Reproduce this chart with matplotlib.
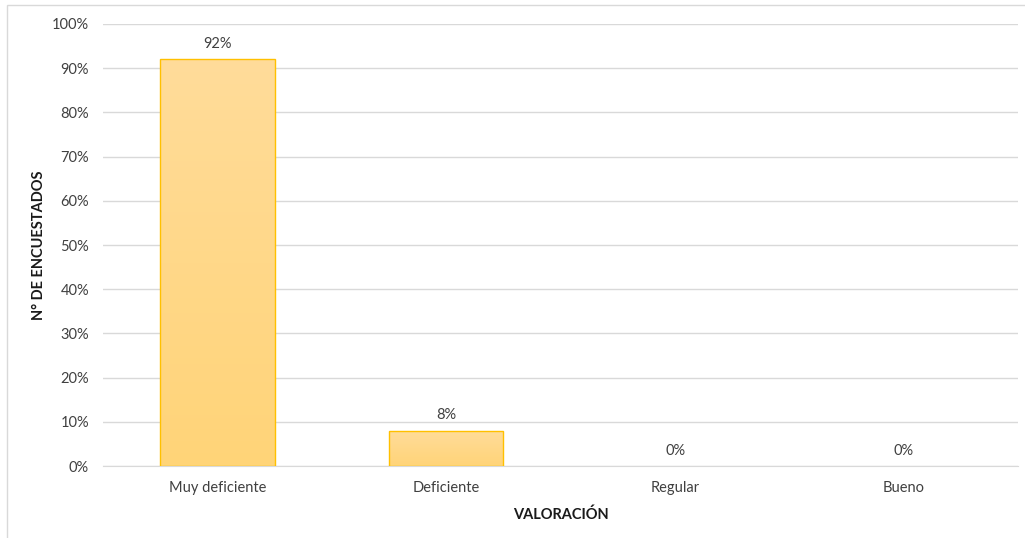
import numpy as np
import matplotlib.pyplot as plt
from matplotlib.patches import Rectangle
from matplotlib.colors import LinearSegmentedColormap

categorias = ["Muy deficiente", "Deficiente", "Regular", "Bueno"]
porcentajes = [92, 8, 0, 0]
yticks = [0, 10, 20, 30, 40, 50, 60, 70, 80, 90, 100]

plt.rcParams['font.family'] = ['Lato', 'DejaVu Sans']

fig = plt.figure(figsize=(10.25, 5.38), dpi=100)
ax = fig.add_axes([0.1005, 0.1338, 0.893, 0.8216])

# borde exterior del grafico
fig.patches.append(Rectangle((7 / 1025, -0.1), 1.2, 1 - 5 / 538 + 0.1,
                             transform=fig.transFigure, fill=False,
                             edgecolor='#D9D9D9', lw=1))

x = np.arange(len(categorias))
bordes = ['#FFC000' if v > 0 else 'none' for v in porcentajes]
barras = ax.bar(x, porcentajes, width=0.5, color='none',
                edgecolor=bordes, linewidth=1, zorder=3)

# relleno degradado de cada barra
cmap = LinearSegmentedColormap.from_list('amarillo', ['#FFD478', '#FFDC9A'])
grad = np.linspace(0, 1, 256).reshape(-1, 1)
for b in barras:
    if b.get_height() <= 0:
        continue
    x0, w, h = b.get_x(), b.get_width(), b.get_height()
    im = ax.imshow(grad, cmap=cmap, aspect='auto', origin='lower',
                   extent=(x0, x0 + w, 0, h), zorder=2)
    im.set_clip_path(b)

for xi, v in zip(x, porcentajes):
    ax.annotate(f"{v}%", (xi, v), xytext=(0, 6), textcoords='offset points',
                ha='center', va='bottom', fontsize=10.5, color='#404040')

ax.set_xlim(-0.5, len(categorias) - 0.5)
ax.set_ylim(0, 100)
ax.set_yticks(yticks)
ax.set_yticklabels([f"{t}%" for t in yticks], fontsize=10.5, color='#404040')
ax.set_xticks(x)
ax.set_xticklabels(categorias, fontsize=10.5, color='#404040')
ax.tick_params(length=0, pad=11)
ax.tick_params(axis='y', pad=10)
ax.grid(axis='y', color='#D9D9D9', lw=1, zorder=0)
ax.set_axisbelow(True)
for s in ['top', 'right', 'left']:
    ax.spines[s].set_visible(False)
ax.spines['bottom'].set_color('#D9D9D9')

ax.set_xlabel("VALORACIÓN", fontsize=10.5, fontweight='bold', color='#1a1a1a', labelpad=9)
ax.set_ylabel("N° DE ENCUESTADOS", fontsize=10.5, fontweight='bold', color='#1a1a1a', labelpad=4)

fig.savefig('out.png', dpi=100)
